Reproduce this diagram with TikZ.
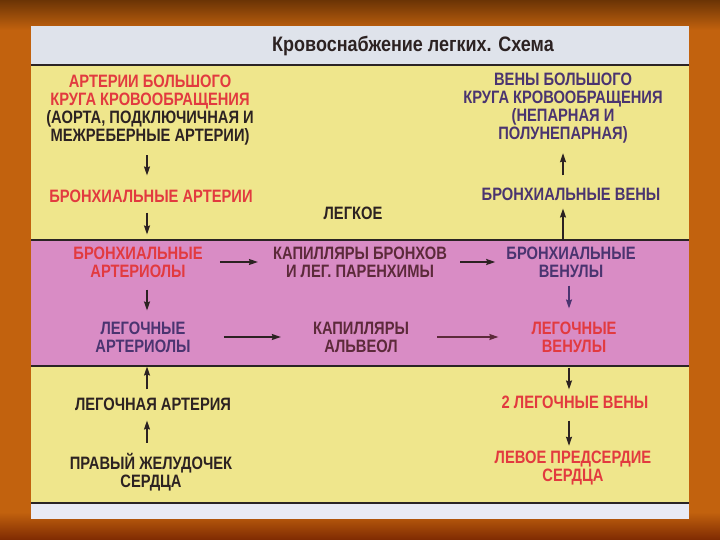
\documentclass[tikz,border=0pt]{standalone}
\usepackage{fontspec}
\usepackage{tikz}
\usetikzlibrary{
  arrows.meta,
  calc
}
\newfontfamily\schemefont{Liberation Sans}[FakeStretch=0.82]
\newfontfamily\headfont{Liberation Sans}[FakeStretch=0.86]
\definecolor{SlideTop}{HTML}{6B3405}
\definecolor{SlideMid}{HTML}{C2620E}
\definecolor{SlideBottom}{HTML}{7E2A02}
\definecolor{TitleGrey}{HTML}{DFE3EB}
\definecolor{BandYellow}{HTML}{EFE68C}
\definecolor{BandPink}{HTML}{D98CC5}
\definecolor{StripWhite}{HTML}{E9EAF4}
\definecolor{RuleInk}{HTML}{2B2424}
\definecolor{InkRed}{HTML}{E23A3F}
\definecolor{InkDark}{HTML}{2C2222}
\definecolor{InkPurple}{HTML}{4A3470}
\definecolor{InkMaroon}{HTML}{5C2A3A}
\tikzset{
  % Coloured band of the chart
  band/.style={fill=#1, draw=none},
  % Dark rule between bands
  rule/.style={draw=RuleInk, line width=1.5pt},
  % Vessel label
  vessel/.style={
    align=center, inner sep=0pt, text=#1,
    font=\schemefont\bfseries\fontsize{18}{18}\selectfont
  },
  % Arrow
  arr/.style={
    -{Stealth[length=9pt,width=6pt,inset=1pt]},
    line width=1.4pt, color=#1
  }
}
\begin{document}
\begin{tikzpicture}[x=1bp, y=-1bp]
  \useasboundingbox (0,0) rectangle (720,540);

  % Slide background
  \fill[SlideMid] (0,0) rectangle (720,540);
  \shade[top color=SlideTop, bottom color=SlideMid] (0,0) rectangle (720,30);
  \shade[top color=SlideMid, bottom color=SlideBottom] (0,512) rectangle (720,540);

  % Bands
  \fill[band=TitleGrey]  (31,26)  rectangle (689,65);
  \fill[band=BandYellow] (31,65)  rectangle (689,240);
  \fill[band=BandPink]   (31,240) rectangle (689,366);
  \fill[band=BandYellow] (31,366) rectangle (689,503);
  \fill[band=StripWhite] (31,503) rectangle (689,519);
  \draw[rule] (31,65)  -- (689,65);
  \draw[rule] (31,240) -- (689,240);
  \draw[rule] (31,366) -- (689,366);
  \draw[rule] (31,503) -- (689,503);

  \node[text=InkDark, inner sep=0pt,
        font=\headfont\bfseries\fontsize{21}{24}\selectfont] (title) at (413,46) {Кровоснабжение легких. Схема};

  % Columns for the vertical arrows
  \coordinate (colL)  at (147,0);
  \coordinate (colRt) at (563,0);
  \coordinate (colRb) at (569,0);

  % Upper yellow band
  \node[vessel=InkRed] (artB) at (150,110) {АРТЕРИИ БОЛЬШОГО\\КРУГА КРОВООБРАЩЕНИЯ\\
    \color{InkDark}(АОРТА, ПОДКЛЮЧИЧНАЯ И\\\color{InkDark}МЕЖРЕБЕРНЫЕ АРТЕРИИ)};
  \node[vessel=InkRed]    (brA)  at (151,196) {БРОНХИАЛЬНЫЕ АРТЕРИИ};
  \node[vessel=InkPurple] (venB) at (563,108) {ВЕНЫ БОЛЬШОГО\\КРУГА КРОВООБРАЩЕНИЯ\\(НЕПАРНАЯ И\\ПОЛУНЕПАРНАЯ)};
  \node[vessel=InkPurple] (brV)  at (571,194) {БРОНХИАЛЬНЫЕ ВЕНЫ};
  \node[vessel=InkDark]   (lung) at (353,213) {ЛЕГКОЕ};

  % Pink band
  \node[vessel=InkRed]    (brAo) at (138,262) {БРОНХИАЛЬНЫЕ\\АРТЕРИОЛЫ};
  \node[vessel=InkMaroon] (capB) at (360,262) {КАПИЛЛЯРЫ БРОНХОВ\\И ЛЕГ. ПАРЕНХИМЫ};
  \node[vessel=InkPurple] (brVu) at (571,262) {БРОНХИАЛЬНЫЕ\\ВЕНУЛЫ};
  \node[vessel=InkPurple] (luAo) at (143,337) {ЛЕГОЧНЫЕ\\АРТЕРИОЛЫ};
  \node[vessel=InkMaroon] (capA) at (361,337) {КАПИЛЛЯРЫ\\АЛЬВЕОЛ};
  \node[vessel=InkRed]    (luVu) at (574,337) {ЛЕГОЧНЫЕ\\ВЕНУЛЫ};

  % Lower yellow band
  \node[vessel=InkDark] (luA) at (153,404) {ЛЕГОЧНАЯ АРТЕРИЯ};
  \node[vessel=InkDark] (rv)  at (151,472) {ПРАВЫЙ ЖЕЛУДОЧЕК\\СЕРДЦА};
  \node[vessel=InkRed]  (luV) at (575,402) {2 ЛЕГОЧНЫЕ ВЕНЫ};
  \node[vessel=InkRed]  (la)  at (573,468) {ЛЕВОЕ ПРЕДСЕРДИЕ\\СЕРДЦА};

  % Arterial side
  \draw[arr=InkDark, shorten <=10bp, shorten >=14bp] (artB.south -| colL) -- (brA.north -| colL);
  \draw[arr=InkDark, shorten <=10bp, shorten >=12bp] (brA.south -| colL)  -- (brAo.north -| colL);
  \draw[arr=InkDark, shorten <=12bp, shorten >=11bp] (brAo.south -| colL) -- (luAo.north -| colL);
  \draw[arr=InkDark, shorten <=8bp,  shorten >=14bp] (luA.north -| colL)  -- (luAo.south -| colL);
  \draw[arr=InkDark, shorten <=10bp, shorten >=10bp] (rv.north -| colL)   -- (luA.south -| colL);

  % Through the capillaries
  \draw[arr=InkDark,   shorten <=17bp, shorten >=15bp] (brAo.east) -- (capB.west);
  \draw[arr=InkDark,   shorten <=13bp, shorten >=11bp] (capB.east) -- (brVu.west);
  \draw[arr=InkDark,   shorten <=33bp, shorten >=32bp] (luAo.east) -- (capA.west);
  \draw[arr=InkMaroon, shorten <=28bp, shorten >=33bp] (capA.east) -- (luVu.west);

  % Venous side
  \draw[arr=InkDark,   shorten <=6bp,  shorten >=8bp]  (brVu.north -| colRt) -- (brV.south -| colRt);
  \draw[arr=InkDark,   shorten <=12bp, shorten >=10bp] (brV.north -| colRt)  -- (venB.south -| colRt);
  \draw[arr=InkPurple, shorten <=8bp,  shorten >=13bp] (brVu.south -| colRb) -- (luVu.north -| colRb);
  \draw[arr=InkDark,   shorten <=15bp, shorten >=6bp]  (luVu.south -| colRb) -- (luV.north -| colRb);
  \draw[arr=InkDark,   shorten <=12bp, shorten >=5bp]  (luV.south -| colRb)  -- (la.north -| colRb);

\end{tikzpicture}
\end{document}
